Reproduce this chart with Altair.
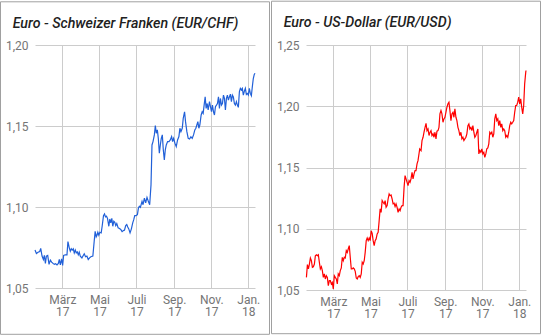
import altair as alt
import pandas as pd

start_date = "2017-01-15"
end_date = "2018-01-12"

# EUR/CHF: day offset from start_date, rate
chf_day = [0, 2.3, 5, 7.8, 9.4, 11.6, 13.8, 15.4, 17.1, 18.7, 20.9, 23.1, 25.3, 27.4, 29.6, 31.8, 34, 36.2, 38.4, 40,
           41.7, 43.8, 45.5, 47.1, 49.9, 52.6, 54.2, 56.4, 58.1, 59.7, 61.3, 63, 64.6, 66.3, 67.9, 69.5, 71.2, 72.8, 74.5, 77.2,
           79.4, 81, 83.2, 85.4, 87.6, 89.8, 91.9, 95.2, 97.4, 99, 100.7, 101.8, 103.4, 105, 106.7, 108.9, 110.5, 112.7, 114.4, 116,
           117.6, 119.3, 121.5, 123.1, 124.7, 126.4, 128, 129.7, 131.3, 132.9, 134.6, 136.8, 139, 141.1, 143.3, 145.5, 147.2, 149.3, 151, 152.6,
           154.3, 156.4, 158.6, 160.8, 162.5, 164.1, 166.3, 168.5, 170.1, 171.7, 173.4, 176.1, 177.8, 180, 182.1, 184.3, 186.5, 188.7, 190.9, 192.5,
           194.2, 196.4, 198, 199.6, 201.3, 202.9, 204.6, 206.2, 207.8, 209.5, 211.1, 212.8, 214.4, 216, 218.2, 220.4, 222.6, 224.8, 226.4, 228.1,
           230.2, 232.4, 234.6, 236.8, 238.4, 240.1, 242.3, 243.9, 246.1, 247.7, 249.9, 252.1, 254.3, 256.5, 258.7, 260.9, 263, 264.7, 266.3, 268,
           269.6, 271.2, 273.4, 275.1, 276.7, 278.3, 280, 281.6, 283.3, 284.9, 287.1, 288.7, 290.4, 292, 293.7, 295.3, 296.9, 298.6, 300.2, 301.9,
           303.5, 305.1, 306.8, 308.4, 310.1, 311.7, 313.3, 315, 316.6, 318.2, 319.9, 321.5, 323.2, 324.8, 326.4, 328.1, 329.7, 331.4, 333, 334.6,
           336.3, 337.9, 339.6, 341.2, 342.8, 344.5, 346.1, 347.8, 349.4, 351, 352.7, 354.3, 356, 357.6, 359.2, 360.8, 362]
chf_rate = [1.0734, 1.0713, 1.0721, 1.0725, 1.0744, 1.0697, 1.0676, 1.0701, 1.0652, 1.0697, 1.0701, 1.0646, 1.0672, 1.0660, 1.0652, 1.0646, 1.0650, 1.0643, 1.0652, 1.0676,
            1.0643, 1.0680, 1.0639, 1.0701, 1.0705, 1.0705, 1.0787, 1.0748, 1.0727, 1.0742, 1.0734, 1.0742, 1.0717, 1.0734, 1.0717, 1.0723, 1.0705, 1.0721, 1.0697, 1.0686,
            1.0701, 1.0711, 1.0693, 1.0697, 1.0676, 1.0686, 1.0693, 1.0697, 1.0789, 1.0850, 1.0816, 1.0824, 1.0844, 1.0826, 1.0844, 1.0840, 1.0881, 1.0947, 1.0957, 1.0939,
            1.0943, 1.0930, 1.0881, 1.0926, 1.0902, 1.0930, 1.0881, 1.0912, 1.0906, 1.0885, 1.0898, 1.0871, 1.0867, 1.0861, 1.0848, 1.0855, 1.0857, 1.0885, 1.0892, 1.0877,
            1.0865, 1.0840, 1.0865, 1.0902, 1.0922, 1.0947, 1.0947, 1.0953, 1.0992, 1.1004, 1.0998, 1.1035, 1.1014, 1.1055, 1.1025, 1.1059, 1.1035, 1.1014, 1.1137, 1.1383,
            1.1404, 1.1445, 1.1502, 1.1455, 1.1476, 1.1424, 1.1332, 1.1383, 1.1424, 1.1445, 1.1353, 1.1291, 1.1353, 1.1383, 1.1404, 1.1404, 1.1414, 1.1435, 1.1404, 1.1424,
            1.1394, 1.1373, 1.1414, 1.1435, 1.1486, 1.1465, 1.1486, 1.1547, 1.1588, 1.1527, 1.1465, 1.1424, 1.1420, 1.1433, 1.1424, 1.1445, 1.1476, 1.1486, 1.1506, 1.1527,
            1.1486, 1.1506, 1.1568, 1.1588, 1.1578, 1.1629, 1.1680, 1.1609, 1.1639, 1.1599, 1.1650, 1.1619, 1.1588, 1.1629, 1.1588, 1.1568, 1.1619, 1.1629, 1.1639, 1.1680,
            1.1609, 1.1670, 1.1629, 1.1639, 1.1691, 1.1670, 1.1599, 1.1670, 1.1691, 1.1660, 1.1680, 1.1697, 1.1650, 1.1691, 1.1680, 1.1639, 1.1629, 1.1650, 1.1629, 1.1615,
            1.1711, 1.1732, 1.1723, 1.1732, 1.1691, 1.1715, 1.1732, 1.1695, 1.1701, 1.1691, 1.1732, 1.1701, 1.1687, 1.1742, 1.1793, 1.1818, 1.1826]

# EUR/USD: day offset from start_date, rate
usd_day = [0.7, 2.3, 4, 5.6, 7.2, 8.9, 10.5, 12.1, 13.8, 15.4, 17.1, 18.7, 20.3, 22, 23.6, 25.3, 26.9, 28.5, 30.2, 31.8,
           33.5, 35.1, 36.7, 38.4, 40, 41.7, 43.3, 44.9, 46.6, 48.2, 49.9, 51.5, 53.1, 54.8, 56.4, 58.1, 59.7, 61.3, 63, 64.6,
           66.3, 67.9, 69.5, 71.2, 72.8, 74.5, 76.1, 77.7, 79.4, 81, 82.7, 84.3, 85.9, 87.6, 89.2, 90.9, 92.5, 94.1, 95.8, 97.4,
           99.1, 100.7, 102.3, 104, 105.6, 107.3, 108.9, 110.5, 112.2, 113.8, 115.4, 117.1, 118.7, 120.4, 122, 123.6, 125.3, 126.9, 128.6, 130.2,
           131.8, 133.5, 135.1, 136.8, 138.4, 140, 141.7, 143.3, 145, 146.6, 148.2, 149.9, 151.5, 153.2, 154.8, 156.4, 158.1, 159.7, 161.4, 163,
           164.6, 166.3, 167.9, 169.6, 171.2, 172.8, 174.5, 176.1, 177.8, 179.4, 181, 182.7, 184.3, 187.1, 189.3, 190.9, 192.6, 194.2, 195.9, 197.5,
           199.1, 200.8, 202.4, 204.1, 205.7, 207.3, 209, 210.6, 212.2, 213.9, 215.5, 217.2, 218.8, 220.4, 222.1, 223.7, 225.4, 227, 228.6, 230.3,
           231.9, 233.6, 235.2, 236.8, 238.5, 240.1, 241.8, 243.4, 245, 246.7, 248.3, 250, 251.6, 253.2, 254.9, 256.5, 258.2, 259.8, 261.4, 263.1,
           264.7, 266.4, 268, 269.6, 271.3, 272.9, 274.6, 276.2, 277.8, 279.5, 281.1, 282.8, 284.4, 286, 287.7, 289.3, 291, 292.6, 294.2, 295.9,
           297.5, 299.2, 300.8, 302.4, 304.1, 305.7, 307.4, 309, 310.6, 312.3, 313.9, 315.6, 317.2, 318.8, 320.5, 322.1, 323.8, 325.4, 327, 328.7,
           330.3, 332, 333.6, 335.2, 336.9, 338.5, 340.2, 341.8, 343.4, 345.1, 346.7, 348.4, 350, 351.6, 353.3, 354.9, 356.6, 358.2, 359.8, 360.8,
           361.6, 362]
usd_rate = [1.0603, 1.0707, 1.0672, 1.0712, 1.0761, 1.0739, 1.0685, 1.0690, 1.0712, 1.0780, 1.0788, 1.0780, 1.0788, 1.0726, 1.0672, 1.0690, 1.0658, 1.0603, 1.0631, 1.0590,
            1.0617, 1.0603, 1.0535, 1.0576, 1.0576, 1.0549, 1.0562, 1.0508, 1.0617, 1.0603, 1.0590, 1.0549, 1.0631, 1.0617, 1.0658, 1.0680, 1.0767, 1.0739, 1.0767, 1.0761,
            1.0821, 1.0807, 1.0835, 1.0862, 1.0767, 1.0672, 1.0672, 1.0680, 1.0672, 1.0652, 1.0598, 1.0590, 1.0609, 1.0617, 1.0603, 1.0631, 1.0726, 1.0712, 1.0739, 1.0807,
            1.0903, 1.0925, 1.0903, 1.0925, 1.0903, 1.0984, 1.0962, 1.0903, 1.0862, 1.0903, 1.0917, 1.0958, 1.0971, 1.1066, 1.1162, 1.1134, 1.1230, 1.1216, 1.1203, 1.1230,
            1.1175, 1.1189, 1.1243, 1.1284, 1.1270, 1.1276, 1.1243, 1.1203, 1.1208, 1.1181, 1.1203, 1.1175, 1.1134, 1.1162, 1.1148, 1.1175, 1.1189, 1.1189, 1.1338, 1.1434,
            1.1407, 1.1379, 1.1352, 1.1393, 1.1379, 1.1407, 1.1461, 1.1407, 1.1448, 1.1475, 1.1475, 1.1529, 1.1556, 1.1652, 1.1638, 1.1720, 1.1747, 1.1788, 1.1828, 1.1861,
            1.1801, 1.1815, 1.1761, 1.1788, 1.1801, 1.1761, 1.1775, 1.1747, 1.1788, 1.1734, 1.1796, 1.1801, 1.1828, 1.1938, 1.1965, 1.1938, 1.1869, 1.1897, 1.1910, 1.1951,
            1.1992, 1.2020, 1.2033, 1.1965, 1.1883, 1.1938, 1.1951, 1.1910, 1.1979, 1.1910, 1.1883, 1.1828, 1.1801, 1.1761, 1.1788, 1.1734, 1.1747, 1.1720, 1.1734, 1.1747,
            1.1775, 1.1842, 1.1856, 1.1815, 1.1828, 1.1801, 1.1842, 1.1788, 1.1747, 1.1761, 1.1788, 1.1815, 1.1611, 1.1638, 1.1624, 1.1652, 1.1611, 1.1624, 1.1583, 1.1611,
            1.1652, 1.1660, 1.1693, 1.1788, 1.1775, 1.1788, 1.1747, 1.1775, 1.1897, 1.1938, 1.1883, 1.1897, 1.1842, 1.1883, 1.1828, 1.1856, 1.1801, 1.1815, 1.1801, 1.1747,
            1.1761, 1.1747, 1.1788, 1.1842, 1.1869, 1.1856, 1.1869, 1.1883, 1.1951, 1.2006, 1.2006, 1.2033, 1.2074, 1.2020, 1.2060, 1.1992, 1.1938, 1.2006, 1.2183, 1.2237,
            1.2278, 1.2292]

chf_ticks = [1.05, 1.10, 1.15, 1.20]
usd_ticks = [1.05, 1.10, 1.15, 1.20, 1.25]
month_ticks = [(2017, 3), (2017, 5), (2017, 7), (2017, 9), (2017, 11), (2018, 1)]
month_names = ["Jan.", "Feb.", "März", "Apr.", "Mai", "Juni", "Juli", "Aug.", "Sep.", "Okt.", "Nov.", "Dez."]
titles = ["Euro - Schweizer Franken (EUR/CHF)", "Euro - US-Dollar (EUR/USD)"]
colors = ["#2160d8", "#ff0000"]

x_values = [alt.DateTime(year=y, month=m, date=1, utc=True) for y, m in month_ticks]
x_domain = [alt.DateTime(year=2017, month=1, date=15, utc=True),
            alt.DateTime(year=2018, month=1, date=12, utc=True)]
names_js = "[" + ",".join("'" + n + "'" for n in month_names) + "]"
x_label_expr = "[" + names_js + "[utcmonth(datum.value)], utcFormat(datum.value, '%y')]"
y_label_expr = "replace(format(datum.value, '.2f'), '.', ',')"


def make_df(days, rates):
    base = pd.Timestamp(start_date)
    dates = [(base + pd.Timedelta(days=d)).strftime("%Y-%m-%dT%H:%M:%SZ") for d in days]
    return pd.DataFrame({"date": dates, "rate": rates})


def panel(days, rates, color, yticks, title, h, top):
    df = make_df(days, rates)
    line = alt.Chart(df).mark_line(color=color, strokeWidth=1.2, interpolate="linear").encode(
        x=alt.X("date:T",
                scale=alt.Scale(type="utc", domain=x_domain),
                axis=alt.Axis(values=x_values, labelExpr=x_label_expr, title=None, grid=True,
                              ticks=False, domain=False, labelPadding=6, labelLineHeight=12.5,
                              labelAngle=0, labelAlign="center", labelBaseline="top",
                              labelFlush=False, labelOverlap=False)),
        y=alt.Y("rate:Q",
                scale=alt.Scale(domain=[yticks[0], yticks[-1]], zero=False, nice=False),
                axis=alt.Axis(values=yticks, labelExpr=y_label_expr, title=None, ticks=False,
                              domain=False, labelPadding=7))
    )
    frame = alt.Chart(pd.DataFrame({"k": [0]})).mark_rect(
        filled=False, stroke="#a0a0a0", strokeWidth=1
    ).encode(x=alt.value(-34.5), x2=alt.value(234.5), y=alt.value(-top + 0.5), y2=alt.value(333 - top))
    head = alt.Chart(pd.DataFrame({"t": [title]})).mark_text(
        align="left", baseline="alphabetic", font="Roboto", fontSize=14.2,
        fontStyle="italic", fontWeight=500, color="#212121"
    ).encode(text="t:N", x=alt.value(-22.3), y=alt.value(26.7 - top))
    return alt.layer(line, frame, head).properties(width=220, height=h)


left = panel(chf_day, chf_rate, colors[0], chf_ticks, titles[0], 243, 43.7)
right = panel(usd_day, usd_rate, colors[1], usd_ticks, titles[1], 245, 44.3)

chart = alt.hconcat(left, right, spacing=1).properties(
    padding={"left": 0, "top": 0, "right": 0, "bottom": 0}
).configure_view(stroke=None).configure_axis(
    labelFont="Roboto", labelFontSize=12, labelColor="#757575",
    gridColor="#cccccc", gridWidth=1
)

chart.save("out.html", embed_options={"renderer": "svg", "actions": False})
